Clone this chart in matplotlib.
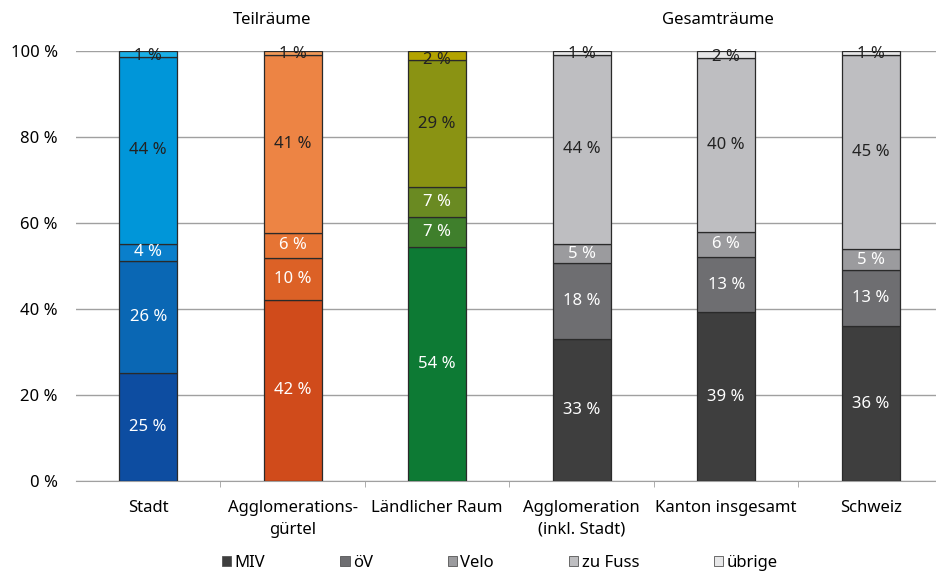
import matplotlib.pyplot as plt
import numpy as np
from matplotlib.patches import Patch

plt.rcParams['font.family'] = ['Noto Sans', 'DejaVu Sans']

categories = ["Stadt", "Agglomerations-\ngürtel", "Ländlicher Raum",
              "Agglomeration\n(inkl. Stadt)", "Kanton insgesamt", "Schweiz"]
modes = ["MIV", "öV", "Velo", "zu Fuss", "übrige"]

# shares in percent per category
miv = [25.1, 42.1, 54.4, 33.0, 39.3, 36.0]
oev = [26.1, 9.8, 7.0, 17.6, 12.7, 13.0]
velo = [3.9, 5.8, 7.0, 4.6, 6.0, 5.0]
fuss = [43.6, 41.3, 29.4, 43.8, 40.4, 45.0]
uebrige = [1.3, 1.0, 2.2, 1.0, 1.6, 1.0]

blues = ["#0d4da1", "#0a67b4", "#0a7fcb", "#0096d9", "#1aafe6"]
oranges = ["#d04b1b", "#dc6126", "#e67434", "#ed8444", "#f39a58"]
greens = ["#0d7a34", "#3f7f2c", "#6a8a22", "#8a9313", "#b3a300"]
grays = ["#3e3e3e", "#6e6e71", "#9b9b9e", "#bebec1", "#e7e7e8"]
palette = [blues, oranges, greens, grays, grays, grays]

label_colors = ["white", "white", "white", "#222222", "#222222"]

data = np.array([miv, oev, velo, fuss, uebrige])

fig = plt.figure(figsize=(9.37, 5.75), dpi=100)
ax = fig.add_axes([76 / 937, 1 - 481 / 575, (943 - 76) / 937, (481 - 51) / 575])

x = np.arange(len(categories))
bottom = np.zeros(len(categories))
for j in range(len(modes)):
    cols = [palette[i][j] for i in range(len(categories))]
    ax.bar(x, data[j], 0.4, bottom=bottom, color=cols,
           edgecolor="#2a2a2a", linewidth=0.9, zorder=3)
    for i in range(len(categories)):
        yc = bottom[i] + data[j][i] / 2
        if j == 4:
            yc = bottom[i] + 0.2
        ax.text(x[i], yc, "%d %%" % round(data[j][i]), ha="center",
                va="center", fontsize=12, color=label_colors[j], zorder=4)
    bottom += data[j]

ax.set_xlim(-0.5, 5.5)
ax.set_ylim(0, 100)
ax.set_yticks(range(0, 101, 20))
ax.set_yticklabels(["%d %%" % v for v in range(0, 101, 20)], fontsize=12)
ax.yaxis.grid(True, color="#a0a0a0", linewidth=1.0, zorder=0)
ax.tick_params(axis="y", length=0, pad=13)

ax.set_xticks(x)
ax.set_xticklabels(categories, fontsize=12, linespacing=1.45)
ax.set_xticks(x[:-1] + 0.5, minor=True)
ax.tick_params(axis="x", which="major", length=0, pad=14)
ax.tick_params(axis="x", which="minor", length=4, color="#a0a0a0")

for s in ["top", "right", "left"]:
    ax.spines[s].set_visible(False)
ax.spines["bottom"].set_color("#a0a0a0")

fig.text(272 / 937, 1 - 20 / 575, "Teilräume", ha="center", va="center", fontsize=12)
fig.text(718 / 937, 1 - 20 / 575, "Gesamträume", ha="center", va="center", fontsize=12)

handles = [Patch(facecolor=grays[j], edgecolor="#555555", linewidth=0.6) for j in range(5)]
fig.legend(handles, modes, loc="center", bbox_to_anchor=(500 / 937, 1 - 563 / 575),
           ncol=5, frameon=False, fontsize=12, handlelength=0.55, handleheight=0.55,
           handletextpad=0.2, columnspacing=4.5)

fig.savefig("out.png", dpi=100)
